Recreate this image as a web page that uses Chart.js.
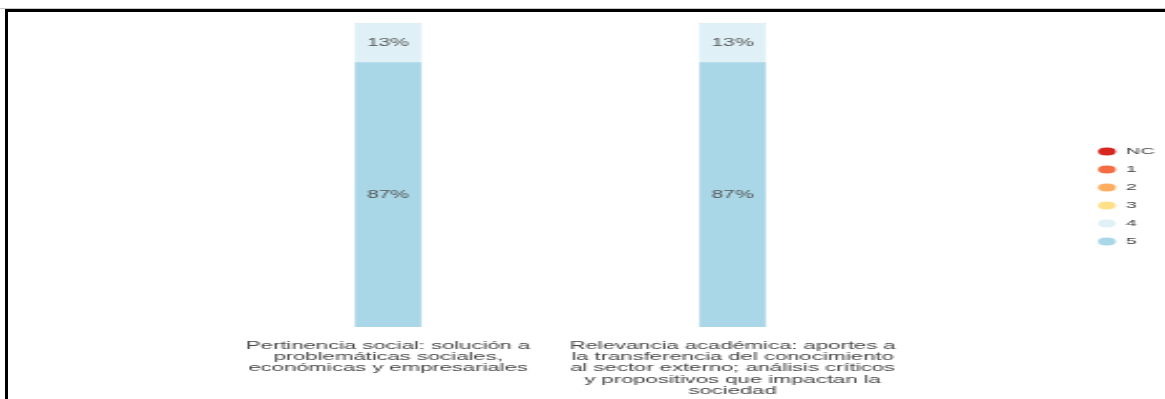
<!DOCTYPE html>
<html lang="es">
<head>
<meta charset="utf-8">
<title>Pertinencia y relevancia</title>
<script src="https://cdn.jsdelivr.net/npm/chart.js@4.4.1/dist/chart.umd.min.js"></script>
<style>
    html, body {
        margin: 0;
        padding: 0;
        background: #fff;
        overflow: hidden;
    }
    .shade {
        position: absolute;
        left: 0;
        right: 0;
        top: 8px;
        height: 1px;
        background: #c8c8c8;
    }
    .frame {
        position: absolute;
        left: 5px;
        top: 9px;
        right: 0;
        bottom: 0;
        border-left: 3px solid #000;
        border-top: 3px solid #000;
    }
    /* the chart is laid out narrow and stretched sideways */
    .stretch {
        position: relative;
        width: 551px;
        height: 387px;
        transform: scaleX(2.1);
        transform-origin: 0 0;
    }
</style>
</head>
<body>
<div class="shade"></div>
<div class="frame">
    <div class="stretch">
        <canvas id="myChart"></canvas>
    </div>
</div>
<script>
const categories = [
    ['Pertinencia social: solución a', 'problemáticas sociales,', 'económicas y empresariales'],
    ['Relevancia académica: aportes a', 'la transferencia del conocimiento', 'al sector externo; análisis críticos', 'y propositivos que impactan la', 'sociedad']
];
const seriesNames = ['NC', '1', '2', '3', '4', '5'];
const valuesNC = [0, 0];
const values1 = [0, 0];
const values2 = [0, 0];
const values3 = [0, 0];
const values4 = [13, 13];
const values5 = [87, 87];
const seriesColors = ['#d7261e', '#f46d43', '#fdae61', '#fee08b', '#dff1f7', '#a9d7e7'];

const seriesValues = [valuesNC, values1, values2, values3, values4, values5];

Chart.defaults.font.family = '"Liberation Sans", Arial, sans-serif';
Chart.defaults.color = '#444';

// percentage written in the middle of each stacked piece
const barLabels = {
    id: 'barLabels',
    afterDatasetsDraw(chart) {
        const ctx = chart.ctx;
        ctx.save();
        ctx.font = '10px "Liberation Sans", Arial, sans-serif';
        ctx.fillStyle = '#555';
        ctx.textAlign = 'center';
        ctx.textBaseline = 'middle';
        chart.data.datasets.forEach((ds, i) => {
            const meta = chart.getDatasetMeta(i);
            meta.data.forEach((bar, j) => {
                const v = ds.data[j];
                if (!v) return;
                ctx.fillText(v + '%', bar.x, (bar.y + bar.base) / 2);
            });
        });
        ctx.restore();
    }
};

// stack from 5 at the bottom up to NC
let datasets = [];
for (let i = seriesNames.length - 1; i >= 0; i--) {
    datasets.push({
        label: seriesNames[i],
        data: seriesValues[i],
        backgroundColor: seriesColors[i],
        borderWidth: 0,
        barThickness: 31
    });
}

const data = {
    labels: categories,
    datasets: datasets
};

const config = {
    type: 'bar',
    data: data,
    options: {
        responsive: true,
        maintainAspectRatio: false,
        animation: false,
        layout: {
            padding: { left: 99, right: -5, top: 11, bottom: -2.7 }
        },
        scales: {
            x: {
                stacked: true,
                grid: { display: false },
                border: { display: false },
                ticks: {
                    padding: 5,
                    maxRotation: 0,
                    autoSkip: false,
                    color: '#444',
                    font: { size: 10.5, lineHeight: 1.08 }
                }
            },
            y: {
                stacked: true,
                position: 'right',
                min: 0,
                max: 100,
                grid: { display: false },
                border: { display: false },
                ticks: { display: false },
                afterFit(scale) {
                    // empty gap between the bars and the legend
                    scale.width = 83.5;
                }
            }
        },
        plugins: {
            tooltip: { enabled: false },
            legend: {
                position: 'right',
                fullSize: false,
                reverse: true,
                // blank title only pushes the items down a little
                title: {
                    display: true,
                    text: '',
                    padding: { top: 0, bottom: 28.6 }
                },
                labels: {
                    usePointStyle: true,
                    pointStyle: 'circle',
                    pointStyleWidth: 8.5,
                    boxHeight: 5.5,
                    padding: 8.5,
                    color: '#444',
                    font: { size: 9.5 }
                }
            }
        }
    },
    plugins: [barLabels]
};

let myChart = new Chart(
    document.getElementById('myChart'),
    config
);
</script>
</body>
</html>
